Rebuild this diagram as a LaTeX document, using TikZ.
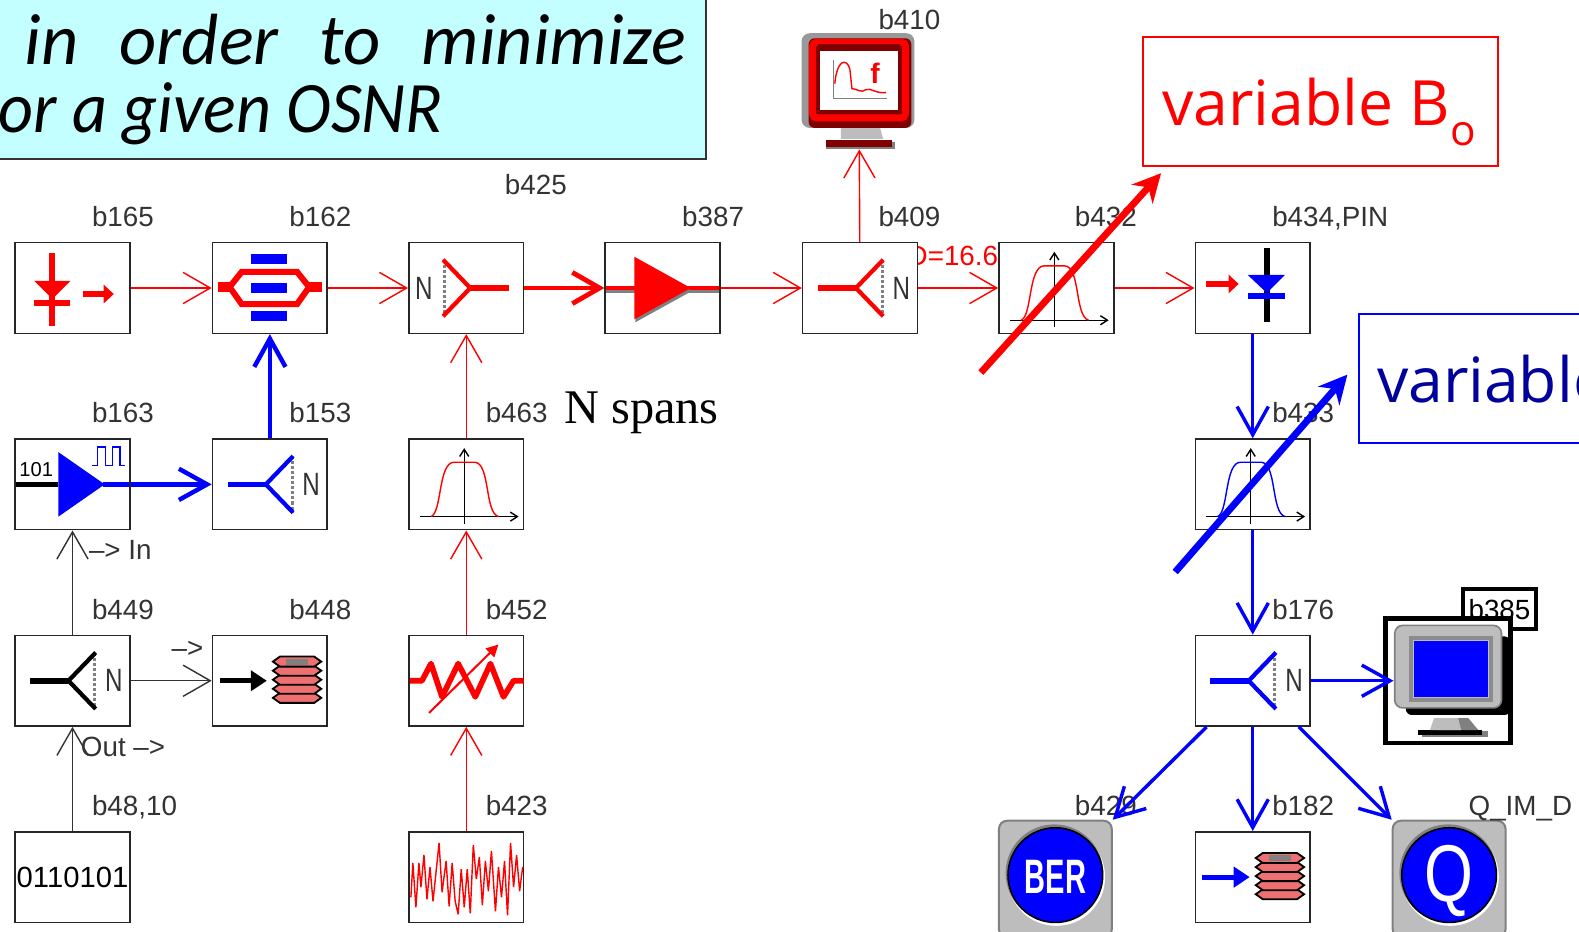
\documentclass[tikz,border=0pt]{standalone}
\usepackage{fontspec}
\usepackage{xcolor}
\setmainfont{Liberation Sans}
\newfontfamily\slidefont{Open Sans}
\newfontfamily\noteitfont{Carlito}
\newfontfamily\spansfont{Liberation Serif}
\usetikzlibrary{arrows.meta, positioning}
\definecolor{notecyan}{HTML}{C4FFFF}
\definecolor{pure}{HTML}{0000FF}
\definecolor{navytext}{HTML}{00009C}
\definecolor{darkmon}{HTML}{7F0000}
\definecolor{padgray}{HTML}{BDBDBD}
\definecolor{diskred}{HTML}{EE7070}

% icons are drawn round the centre of the block given as #1
\newcommand{\splitterup}[2]{
    \begin{scope}[shift={(#1.center)}, line join=miter]
        \draw[gray, densely dotted, line width=1.5pt] (22,-28) -- (22,28);
        \draw[#2, line width=2.1pt] (23,-28) -- (-4,0) -- (23,28);
        \draw[#2, line width=2.8pt] (-4,0) -- (-42,0);
        \node[tag, nmark] (#1n) at (41,0) {N};
    \end{scope}
}
\newcommand{\splitterdown}[2]{
    \begin{scope}[shift={(#1.center)}, line join=miter]
        \draw[gray, densely dotted, line width=1.5pt] (-22,-28) -- (-22,28);
        \draw[#2, line width=2.1pt] (-23,-28) -- (4,0) -- (-23,28);
        \draw[#2, line width=2.8pt] (4,0) -- (42,0);
        \node[tag, nmark] (#1n) at (-42,0) {N};
    \end{scope}
}
\newcommand{\filtercurve}[2]{
    \begin{scope}[shift={(#1.center)}]
        \draw[black, -{Straight Barb[length=3.5pt,width=4.5pt]}, line width=.7pt] (-46,32) -- (52,32);
        \draw[black, -{Straight Barb[length=3.5pt,width=4.5pt]}, line width=.7pt] (-2,39) -- (-2,-36);
        \draw[#2, line width=.7pt] (-35,32) .. controls (-24,28) and (-28,-22) .. (-12,-22)
            -- (8,-22) .. controls (24,-22) and (18,28) .. (32,32);
    \end{scope}
}
\newcommand{\diskstack}[2]{
    \begin{scope}[shift={(#1.center)}]
        \draw[#2, line width=2.6pt, -{Triangle[length=8pt,width=10pt]}] (-50,0) -- (-3,0);
        \foreach \yy in {17,8,-1,-10,-19}
            \draw[black, fill=diskred, line width=.9pt] (3,\yy) -- (10,\yy-5) -- (44,\yy-5) -- (51,\yy) -- (44,\yy+5) -- (10,\yy+5) -- cycle;
        \fill[gray] (16,-22) rectangle (38,-16);
    \end{scope}
}
\newcommand{\padrings}{
    \fill[white] (1,-2) circle (24.2pt);
    \fill[gray] (-1,-6) circle (24.2pt);
    \draw[black, fill=pure, line width=.8pt] (0,-4) circle (23.5pt);
}

\begin{document}
\begin{tikzpicture}[
        x=0.5pt, y=-0.5pt,
        font=\fontsize{13.8}{16}\selectfont,
        block/.style={
            draw=black!85,
            fill=white,
            line width=.8pt,
            inner sep=0pt,
            minimum width=57pt,
            minimum height=45pt
        },
        tag/.style={inner sep=0pt, text depth=0pt, text=black!80},
        nmark/.style={font=\fontsize{16}{18}\selectfont, xscale=.75},
        note/.style={
            draw=black!80,
            fill=notecyan,
            line width=.8pt,
            anchor=north west,
            inner sep=0pt,
            minimum width=356pt,
            minimum height=84.5pt
        },
        notetext/.style={
            inner sep=0pt,
            anchor=base west,
            font=\noteitfont\itshape\fontsize{36}{40}\selectfont
        },
        varbox/.style={
            fill=white,
            line width=.9pt,
            inner sep=0pt,
            anchor=north west,
            minimum width=176.5pt,
            minimum height=64pt
        },
        vartext/.style={
            inner sep=0pt,
            anchor=base west,
            font=\slidefont\fontsize{31}{34}\selectfont
        },
        button/.style={
            draw=gray,
            fill=padgray,
            rounded corners=4pt,
            line width=1pt,
            inner sep=0pt,
            minimum width=56pt,
            minimum height=58pt
        },
        redlink/.style={-{Straight Barb[length=13.5pt,width=15.5pt]}, line width=.7pt, draw=red},
        redfat/.style={-{Straight Barb[length=13.5pt,width=15.5pt]}, line width=2.4pt, draw=red},
        bluelink/.style={-{Straight Barb[length=14pt,width=15.5pt]}, line width=1.7pt, draw=pure},
        bluefat/.style={-{Straight Barb[length=14pt,width=15.5pt]}, line width=2.2pt, draw=pure},
        blacklink/.style={-{Straight Barb[length=13.5pt,width=15.5pt]}, line width=.7pt, draw=black!80},
        bigred/.style={-{Stealth[length=14pt,width=14pt]}, line width=3.4pt, draw=red},
        bigblue/.style={-{Stealth[length=14pt,width=14pt]}, line width=3.4pt, draw=pure}
    ]
        \useasboundingbox (0,0) rectangle (1568,925);

        % text that the blocks partly hide
        \node[tag, text=red, anchor=west] (dose) at (901,254) {D=16.6};

        % blocks
        \node[block] (b165) at (72,286) {};
        \node[block] (b162) at (268,286) {};
        \node[block] (b425) at (463,286) {};
        \node[block] (b387) at (658,286) {};
        \node[block] (b409) at (854,286) {};
        \node[block] (b432) at (1049,286) {};
        \node[block] (b434) at (1244,286) {};
        \node[block] (b163) at (72,481) {};
        \node[block] (b153) at (268,481) {};
        \node[block] (b463) at (463,481) {};
        \node[block] (b433) at (1244,481) {};
        \node[block] (b449) at (72,676) {};
        \node[block] (b448) at (268,676) {};
        \node[block] (b452) at (463,676) {};
        \node[block] (b176) at (1244,676) {};
        \node[block, font=\fontsize{14.5}{16}\selectfont] (b48) at (72,871) {0110101};
        \node[block] (b423) at (463,871) {};
        \node[block] (b182) at (1244,871) {};

        % monitors and buttons
        \node[inner sep=0pt, minimum width=56pt, minimum height=57pt] (b410) at (853,91) {};
        \node[draw=black, fill=white, line width=2pt, inner sep=0pt, minimum width=36pt, minimum height=20pt] (b385) at (1489,605) {b385};
        \node[draw=black, fill=white, line width=2.2pt, inner sep=0pt, minimum width=62pt, minimum height=62pt] (scope385) at (1438,676) {};
        \node[button] (b429) at (1048,873) {};
        \node[button] (qim) at (1439,873) {};

        % labels
        \node[tag, anchor=west] (t165) at (91,215) {b165};
        \node[tag, anchor=west] (t162) at (287,215) {b162};
        \node[tag, anchor=west] (t425) at (501,183) {b425};
        \node[tag, anchor=west] (t387) at (677,215) {b387};
        \node[tag, anchor=west] (t409) at (872,215) {b409};
        \node[tag, anchor=west] (t432) at (1067,215) {b432};
        \node[tag, anchor=west] (t434) at (1263,215) {b434,PIN};
        \node[tag, anchor=west] (t410) at (872,19) {b410};
        \node[tag, anchor=west] (t163) at (91,410) {b163};
        \node[tag, anchor=west] (t153) at (287,410) {b153};
        \node[tag, anchor=west] (t463) at (482,410) {b463};
        \node[tag, anchor=west] (t433) at (1263,410) {b433};
        \node[tag, anchor=west] (t449) at (91,605) {b449};
        \node[tag, anchor=west] (t448) at (287,605) {b448};
        \node[tag, anchor=west] (t452) at (482,605) {b452};
        \node[tag, anchor=west] (t176) at (1263,605) {b176};
        \node[tag, anchor=west] (t48) at (91,800) {b48,10};
        \node[tag, anchor=west] (t423) at (482,800) {b423};
        \node[tag, anchor=west] (t429) at (1067,800) {b429};
        \node[tag, anchor=west] (t182) at (1263,800) {b182};
        \node[tag, anchor=west] (tqim) at (1458,800) {Q\_IM\_D};
        \node[tag, anchor=west] (tin) at (88,546) {–> In};
        \node[tag, anchor=west] (tout) at (80,742) {Out –>};
        \node[tag, anchor=west] (tdir) at (170,645) {–>};
        \node[tag, anchor=base west, text=black, font=\spansfont\fontsize{24}{26}\selectfont] (spans) at (560,421) {N spans};

        % laser
        \begin{scope}[shift={(b165.center)}]
            \draw[red, line width=3pt] (-20,-35) -- (-20,38);
            \fill[red] (-38,-7) -- (-2,-7) -- (-20,11) -- cycle;
            \draw[red, line width=2.8pt] (-38,15) -- (-2,15);
            \draw[red, line width=3pt, -{Triangle[length=5pt,width=9pt]}] (10,6) -- (41,6);
        \end{scope}
        % modulator
        \begin{scope}[shift={(b162.center)}]
            \fill[pure] (-19,-34) rectangle (17,-24);
            \fill[pure] (-19,-5) rectangle (17,5);
            \fill[pure] (-19,23) rectangle (17,33);
            \draw[red, line width=3pt] (-40,-1) -- (-28,-16) -- (27,-16) -- (39,-1) -- (27,16) -- (-28,16) -- cycle;
            \draw[red, line width=5pt] (-52,-1) -- (-40,-1);
            \draw[red, line width=5pt] (39,-1) -- (52,-1);
        \end{scope}
        % transmitter
        \begin{scope}[shift={(b163.center)}]
            \draw[black, line width=2.8pt] (-56,0) -- (-14,0);
            \node[tag, text=black, font=\fontsize{10}{10}\selectfont] (bits) at (-36,-15) {101};
            \draw[pure, line width=2.8pt] (30,0) -- (56,0);
            \fill[pure] (-14,-32) -- (32,0) -- (-14,32) -- cycle;
            \draw[pure, line width=.7pt] (19,-19) -- (25,-19) -- (25,-37) -- (33,-37) -- (33,-19) -- (40,-19) -- (40,-37) -- (47,-37) -- (47,-19) -- (52,-19);
        \end{scope}
        % amplifier
        \begin{scope}[shift={(b387.center)}]
            \draw[gray, line width=2.4pt] (-56,3) -- (56,3);
            \draw[red, line width=2.4pt] (-56,0) -- (56,0);
            \fill[gray] (-27,-28) -- (29,3) -- (-27,34) -- cycle;
            \fill[red] (-28,-31) -- (28,0) -- (-28,31) -- cycle;
        \end{scope}
        % attenuator with rising gain
        \begin{scope}[shift={(b452.center)}]
            \draw[red, line width=2.8pt, line join=round] (-56,0) -- (-44,0) -- (-35,-17) -- (-24,16) -- (-8,-17) -- (9,16) -- (24,-17) -- (37,16) -- (47,0) -- (57,0);
            \draw[red, line width=1pt, -{Triangle[length=6pt,width=6pt]}] (-37,32) -- (32,-36);
        \end{scope}
        % noise trace
        \begin{scope}[shift={(b423.center)}]
            \draw[red, line width=.7pt, line join=bevel] (-55,20) -- (-53,-14) -- (-50,30) -- (-47,-14) -- (-45,10) -- (-42,-22) -- (-39,22) -- (-36,-10) -- (-33,24) -- (-30,-5)
                -- (-27,-34) -- (-24,15) -- (-20,-16) -- (-17,29) -- (-14,-14) -- (-11,24) -- (-8,37) -- (-5,-8) -- (-2,30) -- (1,-8) -- (4,36)
                -- (7,-32) -- (10,2) -- (13,-20) -- (16,28) -- (19,-16) -- (22,14) -- (25,-26) -- (29,34) -- (32,-10) -- (35,20) -- (38,-16) -- (41,38)
                -- (44,-34) -- (47,10) -- (50,-22) -- (53,14) -- (56,-10);
        \end{scope}
        % spectrum monitor
        \begin{scope}[shift={(b410.center)}]
            \fill[padgray] (-18,36) -- (21,36) -- (24,47) -- (-18,47) -- cycle;
            \fill[gray] (-33,50) rectangle (36,57);
            \fill[darkmon] (-33,48) rectangle (33,55);
            \fill[gray!80, rounded corners=4pt] (-57,-58) rectangle (55,36);
            \fill[darkmon, rounded corners=3pt] (-50,-53) rectangle (52,36);
            \draw[red, line width=3.5pt, rounded corners=2pt] (-46,-49) rectangle (46,26);
            \fill[darkmon] (-41,-47) rectangle (41,-40);
            \fill[white] (-39,-40) rectangle (39,18);
            \draw[gray, line width=.6pt] (-25,-31) -- (-25,7) -- (28,7);
            \draw[red, line width=.7pt] (-24,-8) .. controls (-22,-32) and (-12,-34) .. (-9,-22) -- (-7,-3) .. controls (-2,-3) and (2,2) .. (7,-2) .. controls (12,-4) and (16,2) .. (27,1);
            \node[tag, text=red, font=\bfseries\fontsize{14}{14}\selectfont] (fmark) at (16,-18) {f};
        \end{scope}
        % scope monitor
        \begin{scope}[shift={(scope385.center)}]
            \fill[gray] (-26,50) rectangle (40,56);
            \fill[black] (-30,49) rectangle (34,54);
            \fill[gray] (-10,37) -- (20,37) -- (30,49) -- (-10,49) -- cycle;
            \fill[padgray] (-14,37) -- (10,37) -- (13,49) -- (-18,49) -- cycle;
            \fill[black, rounded corners=3pt] (-42,-44) rectangle (62,34);
            \fill[padgray, rounded corners=4pt, draw=gray, line width=.8pt] (-53,-55) rectangle (53,27);
            \fill[pure] (-34,-39) rectangle (40,16);
            \draw[gray!90, line width=2pt] (-37,-42) rectangle (43,19);
        \end{scope}
        % disk stores
        \diskstack{b448}{black}
        \diskstack{b182}{pure}
        % ber and q buttons
        \begin{scope}[shift={(b429.center)}]
            \padrings
            \node[tag, text=white, font=\bfseries\fontsize{24}{26}\selectfont, xscale=.6] (bertext) at (0,-2) {BER};
        \end{scope}
        \begin{scope}[shift={(qim.center)}]
            \padrings
            \node[tag, text=white, font=\fontsize{40}{42}\selectfont, xscale=.78] (qtext) at (0,-6) {Q};
        \end{scope}

        \splitterup{b153}{pure}
        \splitterup{b409}{red}
        \splitterup{b449}{black}
        \splitterup{b176}{pure}
        \splitterdown{b425}{red}
        \filtercurve{b463}{red}
        \filtercurve{b432}{red}
        \filtercurve{b433}{pure}

        % photodiode on the right
        \begin{scope}[shift={(b434.center)}]
            \draw[black, line width=3pt] (14,-40) -- (14,34);
            \fill[pure] (-5,-13) -- (32,-13) -- (14,5) -- cycle;
            \draw[pure, line width=2.8pt] (-5,8) -- (32,8);
            \draw[red, line width=3pt, -{Triangle[length=5pt,width=9pt]}] (-46,-4) -- (-14,-4);
        \end{scope}

        % connectors
        \draw[redlink] (b165) -- (b162);
        \draw[redlink] (b162) -- (b425);
        \draw[redfat] (b425) -- (b387);
        \draw[redlink] (b387) -- (b409);
        \draw[redlink] (b409) -- (b432);
        \draw[redlink] (b432) -- (b434);
        \draw[redlink] (b409) -- (b410);
        \draw[redlink] (b463) -- (b425);
        \draw[redlink] (b452) -- (b463);
        \draw[redlink] (b423) -- (b452);
        \draw[bluefat] (b153) -- (b162);
        \draw[bluefat] (b163) -- (b153);
        \draw[blacklink] (b449) -- (b163);
        \draw[blacklink] (b449) -- (b448);
        \draw[blacklink] (b48) -- (b449);
        \draw[bluelink] (b434) -- (b433);
        \draw[bluelink] (b433) -- (b176);
        \draw[bluelink] (b176) -- (b182);
        \draw[bluelink] (b176) -- ([xshift=5pt]scope385.west);
        \draw[bluelink] (b176.-135) -- (b429.north east);
        \draw[bluelink] (b176.-45) -- (qim.north west);

        % slide overlays
        \node[note] (notebox) at (-12,-12) {};
        \node[notetext] (lineone) at (24,64) {in\hspace{.57em}order\hspace{.57em}to\hspace{.57em}minimize};
        \node[notetext, xscale=.94] (linetwo) at (-2,132) {or a given OSNR};
        \node[varbox, draw=red] (varbo) at (1134,36) {};
        \node[vartext, text=red] (varbotext) at (1154,125) {variable B\raisebox{-.32em}{\fontsize{21}{24}\selectfont o}};
        \node[varbox, draw=pure] (varbe) at (1349,311) {};
        \node[vartext, text=navytext] (varbetext) at (1367,400) {variable};

        \coordinate (redstart) at (974,370);
        \coordinate (redend) at (1153,172);
        \coordinate (bluestart) at (1167,568);
        \coordinate (blueend) at (1338,372);
        \draw[bigred] (redstart) -- (redend);
        \draw[bigblue] (bluestart) -- (blueend);
    \end{tikzpicture}
\end{document}
